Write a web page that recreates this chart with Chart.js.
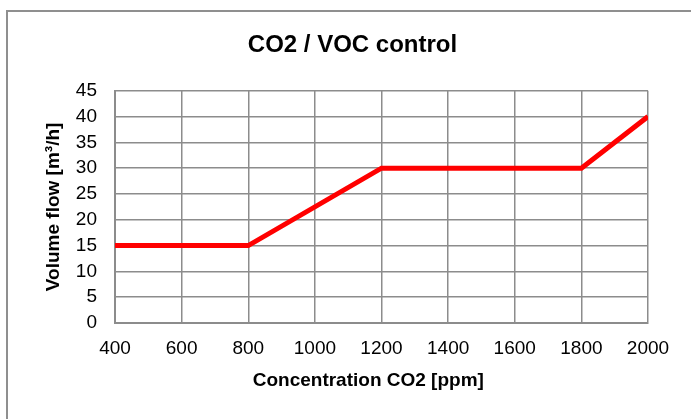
<!DOCTYPE html>
<html lang="en">
  <head>
    <meta charset="UTF-8" />
    <script src="https://cdn.jsdelivr.net/npm/chart.js"></script>
    <style>
      html, body { margin: 0; padding: 0; background: #fff; overflow: hidden; }
      #wrap { position: relative; width: 691px; height: 419px; }
      #frame {
        position: absolute; left: 6px; top: 10px; width: 700px; height: 420px;
        border-left: 2px solid #8f8f8f; border-top: 2px solid #8f8f8f;
      }
      canvas { position: absolute; left: 0; top: 0; }
    </style>
  </head>
  <body>
    <div id="wrap">
      <div id="frame"></div>
      <canvas id="co2Chart" width="691" height="419"></canvas>
    </div>

    <script>
      // Dữ liệu
      const co2Points = [400, 800, 1200, 1800, 2000]; // ppm
      const flowValues = [15, 15, 30, 30, 40]; // m³/h
      const xTicks = [400, 600, 800, 1000, 1200, 1400, 1600, 1800, 2000];
      const yTicks = [0, 5, 10, 15, 20, 25, 30, 35, 40, 45];

      const fontFamily = "'Liberation Sans', Arial, sans-serif";
      const gridGray = "#8c8c8c";

      // Dời tiêu đề cho giống hình gốc (tâm ở x ≈ 352)
      const moveTitle = {
        id: "moveTitle",
        afterLayout(chart) {
          if (chart.titleBlock) {
            chart.titleBlock.left = 0;
            chart.titleBlock.right = 705;
          }
        },
      };

      const ctx = document.getElementById("co2Chart").getContext("2d");
      const chart = new Chart(ctx, {
        type: "line",
        data: {
          datasets: [
            {
              data: co2Points.map((x, i) => ({ x: x, y: flowValues[i] })),
              borderColor: "#ff0000",
              borderWidth: 5,
              pointRadius: 0,
              tension: 0,
              fill: false,
            },
          ],
        },
        plugins: [moveTitle],
        options: {
          responsive: false,
          animation: false,
          layout: { padding: { left: 0, right: 43, top: 0, bottom: 0 } },
          plugins: {
            legend: { display: false },
            tooltip: { enabled: false },
            title: {
              display: true,
              text: "CO2 / VOC control",
              color: "#000",
              font: { family: fontFamily, size: 24, weight: "bold" },
              padding: { top: 31, bottom: 31 },
            },
          },
          scales: {
            x: {
              type: "linear",
              min: xTicks[0],
              max: xTicks[xTicks.length - 1],
              afterBuildTicks: (s) => { s.ticks = xTicks.map((v) => ({ value: v })); },
              afterFit: (s) => { s.height = 96; },
              grid: { color: gridGray, lineWidth: 1.5, drawTicks: false },
              border: { color: gridGray, width: 2 },
              ticks: {
                color: "#000",
                padding: 14,
                maxRotation: 0,
                font: { family: fontFamily, size: 19 },
                callback: (v) => String(v),
              },
              title: {
                display: true,
                // khoảng trắng cuối để dời tâm sang trái như hình gốc
                text: "Concentration CO2 [ppm]\u00a0\u00a0\u00a0\u00a0\u00a0",
                color: "#000",
                font: { family: fontFamily, size: 19, weight: "bold" },
                padding: { top: 0, bottom: 27 },
              },
            },
            y: {
              min: yTicks[0],
              max: yTicks[yTicks.length - 1],
              afterBuildTicks: (s) => { s.ticks = yTicks.map((v) => ({ value: v })); },
              afterFit: (s) => { s.width = 115; },
              grid: { color: gridGray, lineWidth: 1.5, drawTicks: false },
              border: { color: gridGray, width: 2 },
              ticks: {
                color: "#000",
                padding: 18,
                font: { family: fontFamily, size: 19 },
                callback: (v) => String(v),
              },
              title: {
                display: true,
                text: "Volume flow [m³/h]",
                color: "#000",
                font: { family: fontFamily, size: 19, weight: "bold" },
                padding: { top: 42, bottom: 0 },
              },
            },
          },
        },
      });
    </script>
  </body>
</html>
